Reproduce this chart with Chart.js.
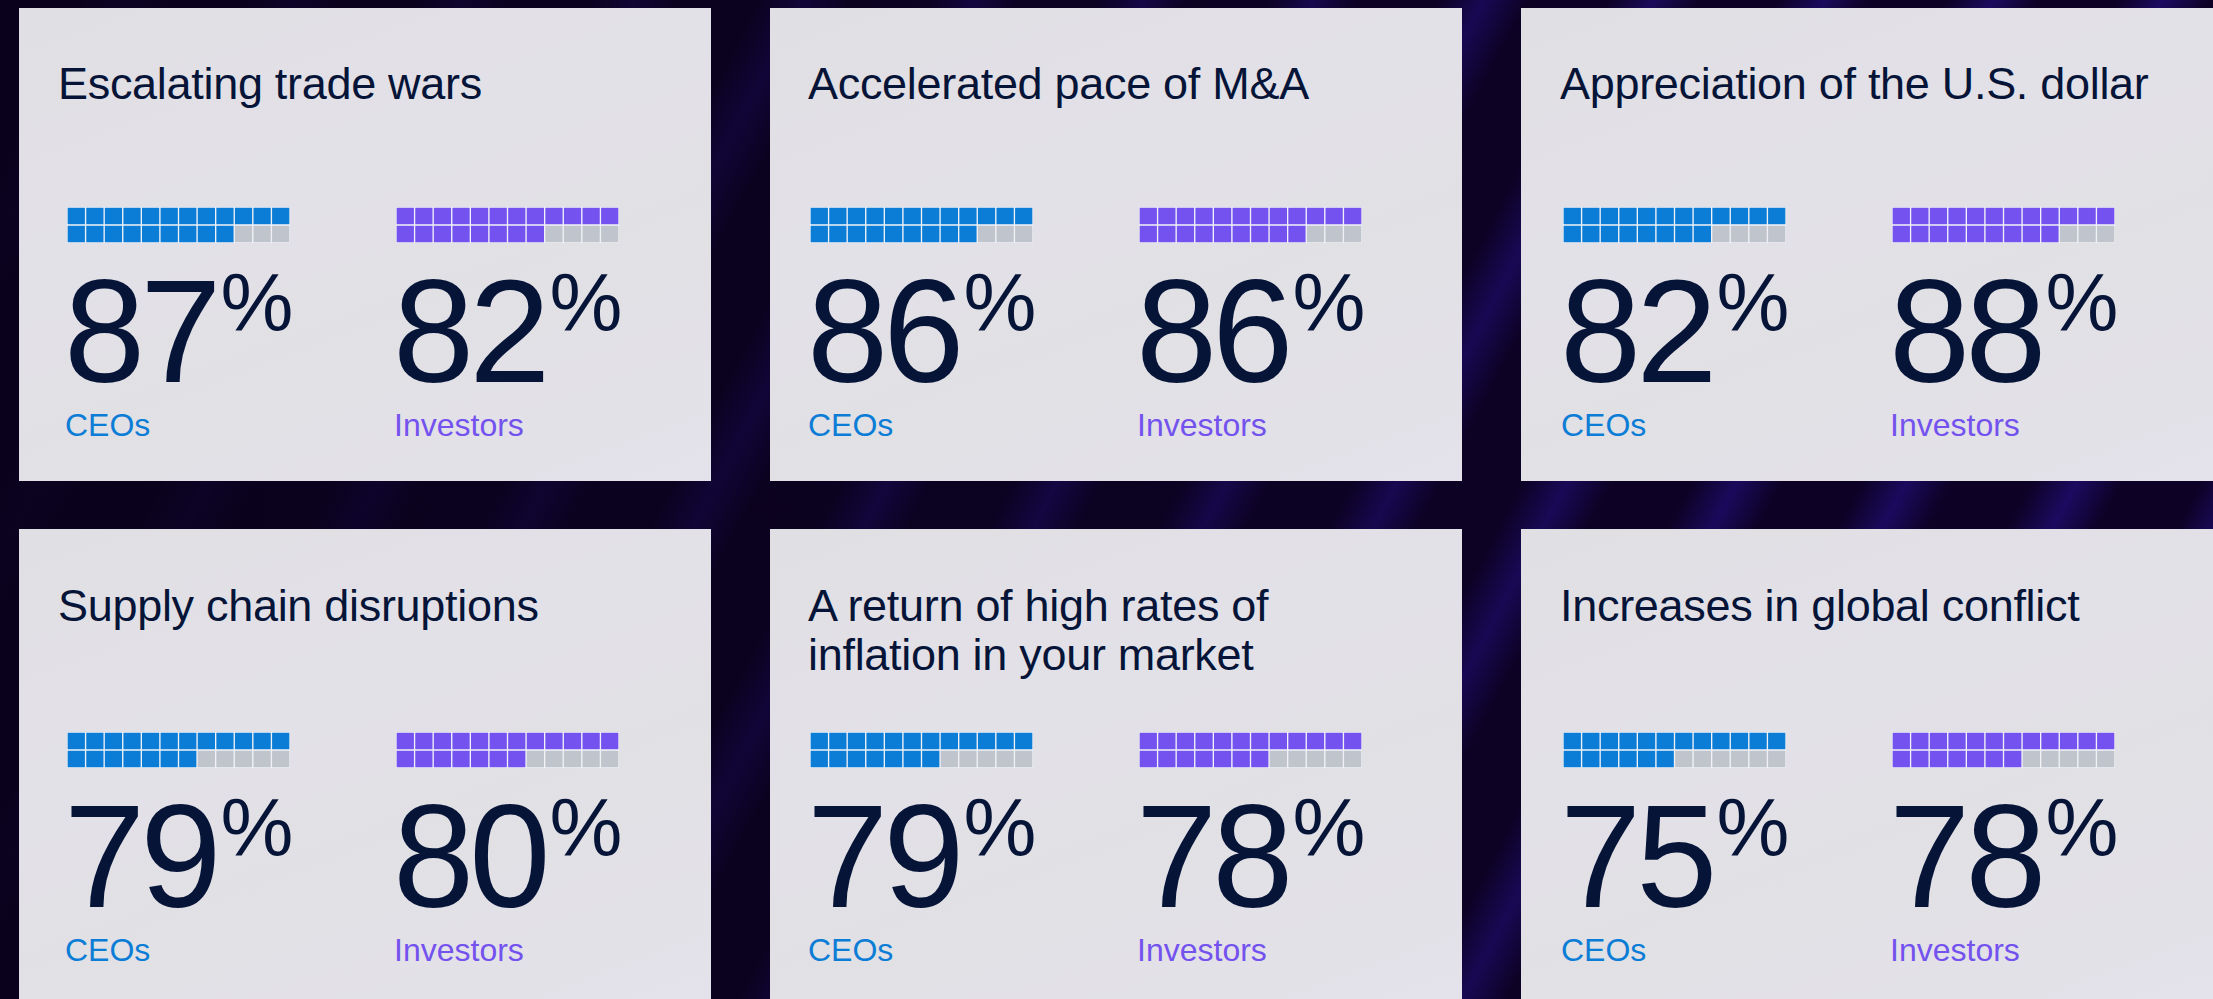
<!DOCTYPE html>
<html>
<head>
<meta charset="utf-8">
<script src="https://cdn.jsdelivr.net/npm/chart.js@4.4.1/dist/chart.umd.min.js"></script>
<style>
  html, body { margin: 0; padding: 0; }
  body {
    width: 2213px; height: 999px; overflow: hidden; position: relative;
    font-family: "Liberation Sans", Arial, sans-serif;
    background:
      linear-gradient(90deg, rgba(10,2,28,0.95) 0%, rgba(10,2,28,0.6) 35%, rgba(10,2,28,0.1) 75%, rgba(40,6,70,0) 100%),
      repeating-linear-gradient(118deg, #0d0226 0px, #0d0226 70px, #1c0a62 110px, #0d0226 150px),
      #0d0226;
  }
  .panel {
    position: absolute; width: 692px; height: 473px;
    background: linear-gradient(160deg, #e0dfe3 0%, #e3e1e8 40%, #e1e0e4 60%, #e4e2ea 100%);
  }
  .title {
    position: absolute; font-size: 45px; line-height: 49px; color: #061438;
    white-space: pre; letter-spacing: -0.3px;
  }
  .num {
    position: absolute; display: flex; align-items: flex-start; color: #061438;
  }
  .num .d { font-size: 146px; line-height: 110px; letter-spacing: -5px; }
  .num .p { font-size: 82px; line-height: 64px; margin-top: -6px; margin-left: 4px; }
  .lab { position: absolute; font-size: 32px; line-height: 30px; }
  .ceo { color: #0c7dd6; }
  .inv { color: #7352ee; }
  canvas.waffle { position: absolute; }
</style>
</head>
<body>
<script>
const topics = [
  "Escalating trade wars",
  "Accelerated pace of M&A",
  "Appreciation of the U.S. dollar",
  "Supply chain disruptions",
  "A return of high rates of\ninflation in your market",
  "Increases in global conflict"
];
const ceoPct = [87, 86, 82, 79, 79, 75];
const investorPct = [82, 86, 88, 80, 78, 78];
// filled squares out of 24, counted on the picture
const ceoCells = [21, 21, 20, 19, 19, 18];
const investorCells = [20, 21, 21, 19, 19, 19];
const seriesNames = ["CEOs", "Investors"];
const cellColumns = ["1","2","3","4","5","6","7","8","9","10","11","12"];

const BLUE = "#0c7dd6";
const PURPLE = "#7352f0";
const EMPTY = "#c0c4cc";

const panelLeft = [19, 770, 1521];
const panelTop = [8, 529];
const titleLeft = [58, 808, 1560];
const gridLeft = [67, 810, 1563];
const invOffset = 329;

function addEl(cls, text, left, top) {
  const el = document.createElement("div");
  el.className = cls;
  el.textContent = text;
  el.style.left = left + "px";
  el.style.top = top + "px";
  document.body.appendChild(el);
  return el;
}

function waffle(left, top, filled, color) {
  const c = document.createElement("canvas");
  c.className = "waffle";
  c.width = 223; c.height = 36;
  c.style.left = left + "px";
  c.style.top = top + "px";
  c.style.width = "223px"; c.style.height = "36px";
  document.body.appendChild(c);
  const n = cellColumns.length;
  const topRow = cellColumns.map((_, i) => i < Math.min(filled, n) ? color : EMPTY);
  const bottomRow = cellColumns.map((_, i) => i < filled - n ? color : EMPTY);
  new Chart(c.getContext("2d"), {
    type: "bar",
    data: {
      labels: cellColumns,
      datasets: [
        { data: cellColumns.map(() => 1), backgroundColor: bottomRow },
        { data: cellColumns.map(() => 1), backgroundColor: topRow }
      ]
    },
    options: {
      responsive: false, animation: false, devicePixelRatio: 1,
      layout: { padding: 0 },
      datasets: { bar: { barPercentage: 1, categoryPercentage: 1, borderWidth: 1,
        borderColor: "#f1f2f7", borderSkipped: false } },
      plugins: { legend: { display: false }, tooltip: { enabled: false } },
      scales: {
        x: { stacked: true, display: false },
        y: { stacked: true, display: false, min: 0, max: 2 }
      }
    }
  });
}

topics.forEach((t, k) => {
  const col = k % 3, row = Math.floor(k / 3);
  const p = document.createElement("div");
  p.className = "panel";
  p.style.left = panelLeft[col] + "px";
  p.style.top = panelTop[row] + "px";
  document.body.appendChild(p);

  const dy = row === 0 ? 0 : 522;
  const dc = row === 0 ? 0 : 525;
  addEl("title", t, titleLeft[col], 59 + dy);

  const gx = gridLeft[col];
  waffle(gx, 207 + dc, ceoCells[k], BLUE);
  waffle(gx + invOffset, 207 + dc, investorCells[k], PURPLE);

  [ceoPct[k], investorPct[k]].forEach((v, j) => {
    const n = addEl("num", "", gx - 3 + j * invOffset, 277 + dc);
    n.innerHTML = '<span class="d">' + v + '</span><span class="p">%</span>';
    addEl("lab " + (j === 0 ? "ceo" : "inv"), seriesNames[j], gx - 2 + j * invOffset, 410 + dc);
  });
});
</script>
</body>
</html>
